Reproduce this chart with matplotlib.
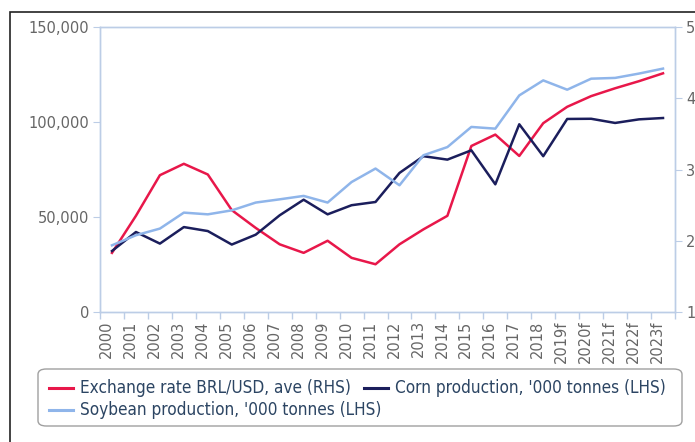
import matplotlib
matplotlib.use("Agg")
import matplotlib.pyplot as plt
from matplotlib.patches import Rectangle, FancyBboxPatch
from matplotlib.lines import Line2D
from matplotlib.ticker import FuncFormatter

# values
years = ["2000", "2001", "2002", "2003", "2004", "2005", "2006", "2007", "2008",
         "2009", "2010", "2011", "2012", "2013", "2014", "2015", "2016", "2017",
         "2018", "2019f", "2020f", "2021f", "2022f", "2023f"]
fx_rate = [1.83, 2.35, 2.92, 3.08, 2.93, 2.43, 2.18, 1.95, 1.83, 2.00, 1.76, 1.67,
           1.95, 2.16, 2.35, 3.33, 3.49, 3.19, 3.65, 3.88, 4.03, 4.14, 4.24, 4.35]
corn = [32100, 42100, 36000, 44700, 42600, 35500, 40700, 50900, 59100, 51400,
        56200, 57900, 73200, 82000, 80200, 85100, 67200, 98800, 82000, 101600,
        101700, 99500, 101400, 102100]
soybean = [35100, 40400, 43900, 52300, 51400, 53500, 57600, 59300, 61100, 57600,
           68400, 75500, 66700, 82500, 86800, 97400, 96500, 114000, 121900, 117000,
           122800, 123200, 125500, 128100]
labels = ["Exchange rate BRL/USD, ave (RHS)",
          "Corn production, '000 tonnes (LHS)",
          "Soybean production, '000 tonnes (LHS)"]

RED = "#e8174a"
NAVY = "#1b1e5c"
LIGHT = "#8fb5ea"
SPINE = "#bccde6"
TICKTXT = "#666666"
LEGTXT = "#2c4563"

W, H = 695, 442
fig = plt.figure(figsize=(W / 100, H / 100), dpi=100)

def fx(px):
    return px / W

def fy(py):
    return 1 - py / H

# outer frame (cut off at right and bottom)
fig.patches.append(Rectangle((fx(10), -0.05), 1.2, fy(12) + 0.05,
                             transform=fig.transFigure, fill=False,
                             edgecolor="#222222", linewidth=1.2))

ax = fig.add_axes([fx(100), fy(312), fx(575), 285 / H])
ax2 = ax.twinx()

x = list(range(len(years)))
ax.plot(x, corn, color=NAVY, lw=1.8)
ax.plot(x, soybean, color=LIGHT, lw=1.8)
ax2.plot(x, fx_rate, color=RED, lw=1.8)
ax.set_zorder(ax2.get_zorder() + 1)
ax.patch.set_visible(False)

ax.set_xlim(-0.5, len(years) - 0.5)
ax.set_ylim(0, 150000)
ax2.set_ylim(1, 5)
ax.set_yticks([0, 50000, 100000, 150000])
ax.yaxis.set_major_formatter(FuncFormatter(lambda v, p: f"{int(v):,}"))
ax2.set_yticks([1, 2, 3, 4, 5])

ax.set_xticks([i - 0.5 for i in range(len(years) + 1)])
ax.set_xticklabels([])
ax.set_xticks([i - 0.23 for i in x], minor=True)
ax.set_xticklabels(years, minor=True, rotation=90)
ax.tick_params(axis="x", which="major", length=5, color=SPINE, width=1)
ax.tick_params(axis="x", which="minor", length=0, pad=6, labelsize=10.5, labelcolor=TICKTXT)
ax.tick_params(axis="y", length=5, color=SPINE, labelsize=10.5, labelcolor=TICKTXT, pad=3)
ax2.tick_params(axis="y", length=5, color=SPINE, labelsize=10.5, labelcolor=TICKTXT, pad=3)

for a in (ax, ax2):
    for s in a.spines.values():
        s.set_color(SPINE)
        s.set_linewidth(1)

# legend: flowing layout like the original (two items on first row)
box = FancyBboxPatch((fx(38), fy(426)), fx(644), 57 / H,
                     boxstyle="round,pad=0,rounding_size=0.012",
                     transform=fig.transFigure, facecolor="white",
                     edgecolor="#a0a0a0", linewidth=1)
fig.patches.append(box)

def legend_item(x0, y0, color, text):
    fig.add_artist(Line2D([fx(x0), fx(x0 + 24)], [fy(y0), fy(y0)],
                          transform=fig.transFigure, color=color, lw=2.2))
    return fig.text(fx(x0 + 31), fy(y0), text, color=LEGTXT, fontsize=12.3,
                    va="center", ha="left", family="DejaVu Sans",
                    fontstretch="condensed")

t1 = legend_item(49, 388, RED, labels[0])
legend_item(49, 410, LIGHT, labels[2])
fig.canvas.draw()
end1 = t1.get_window_extent().x1
legend_item(end1 + 13, 388, NAVY, labels[1])

fig.savefig("out.png", dpi=100)
